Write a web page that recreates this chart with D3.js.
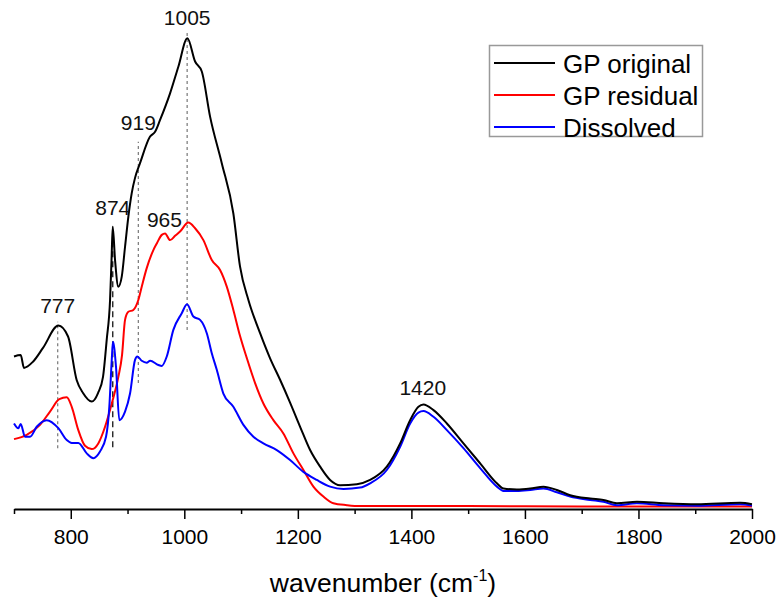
<!DOCTYPE html>
<html lang="en">
<head>
  <meta charset="UTF-8">
  <title>FTIR spectra</title>
  <script src="https://cdn.jsdelivr.net/npm/d3@7"></script>
  <style>
    html, body { margin: 0; padding: 0; background: #fff; }
    svg { display: block; font-family: "Liberation Sans", Arial, sans-serif; }
  </style>
</head>
<body>
  <svg id="chart" width="778" height="601"></svg>
  <script>
    // wavenumber (cm-1) / absorbance (a.u.)
    const gpOriginal = [
      [700, 0.319], [711.8, 0.322], [717.6, 0.295], [733.5, 0.308], [751.1, 0.337],
      [778.1, 0.384], [795.2, 0.361], [810.5, 0.269], [821.6, 0.242], [836.9, 0.224],
      [848.0, 0.242], [856.8, 0.276], [863.3, 0.354], [869.2, 0.438], [871.8, 0.522],
      [873.9, 0.592], [878.0, 0.522], [883.8, 0.466], [889.8, 0.487], [895.6, 0.550],
      [901.4, 0.613], [907.4, 0.663], [913.2, 0.695], [922.0, 0.726], [939.7, 0.782],
      [948.5, 0.792], [957.3, 0.817], [974.9, 0.873], [989.5, 0.929], [1005.4, 0.989],
      [1019.0, 0.940], [1030.8, 0.919], [1045.4, 0.824], [1066.0, 0.726], [1086.4, 0.620],
      [1098.2, 0.508], [1112.9, 0.438], [1133.5, 0.368], [1151.1, 0.315], [1168.7, 0.270],
      [1186.3, 0.222], [1204.0, 0.171], [1221.6, 0.122], [1239.2, 0.087], [1256.8, 0.059],
      [1274.4, 0.048], [1303.9, 0.050], [1327.3, 0.059], [1356.7, 0.087], [1380.2, 0.136],
      [1397.8, 0.185], [1412.4, 0.213], [1421.2, 0.218], [1438.9, 0.206], [1462.5, 0.178],
      [1491.7, 0.136], [1521.1, 0.094], [1550.6, 0.052], [1562.2, 0.041], [1585.8, 0.039],
      [1609.3, 0.041], [1632.7, 0.045], [1656.3, 0.038], [1679.7, 0.027], [1715.0, 0.020],
      [1738.4, 0.017], [1762.0, 0.010], [1797.3, 0.013], [1844.1, 0.010], [1903.0, 0.008],
      [1979.2, 0.011], [2000, 0.008]
    ];

    const gpResidual = [
      [700, 0.145], [722.4, 0.154], [745.8, 0.175], [763.4, 0.203], [779.8, 0.229],
      [792.9, 0.233], [801.7, 0.213], [813.3, 0.164], [825.1, 0.131], [836.9, 0.124],
      [848.5, 0.136], [860.4, 0.171], [872.2, 0.220], [883.8, 0.276], [890.3, 0.322],
      [895.6, 0.396], [901.4, 0.413], [910.2, 0.417], [919.0, 0.438], [925.0, 0.466],
      [933.8, 0.505], [945.5, 0.543], [952.0, 0.558], [960.3, 0.575], [966.1, 0.578],
      [974.9, 0.564], [983.7, 0.573], [992.5, 0.582], [1007.1, 0.601], [1019.0, 0.589],
      [1033.6, 0.564], [1048.4, 0.522], [1063.0, 0.501], [1074.8, 0.466], [1086.4, 0.417],
      [1098.2, 0.362], [1110.0, 0.316], [1124.7, 0.263], [1139.3, 0.220], [1156.9, 0.185],
      [1174.5, 0.157], [1192.2, 0.115], [1209.8, 0.080], [1227.4, 0.045], [1245.0, 0.024],
      [1262.6, 0.010], [1286.3, 0.006], [1309.7, 0.004], [1500, 0.004], [1700, 0.003],
      [2000, 0.003]
    ];

    const dissolved = [
      [700, 0.178], [707.6, 0.168], [711.8, 0.177], [719.4, 0.150], [728.2, 0.150],
      [740.0, 0.171], [757.6, 0.185], [778.1, 0.168], [792.9, 0.143], [801.7, 0.137],
      [813.3, 0.137], [828.1, 0.115], [839.7, 0.105], [851.5, 0.119], [862.1, 0.150],
      [867.9, 0.213], [872.2, 0.312], [874.3, 0.350], [879.7, 0.297], [885.5, 0.185],
      [895.6, 0.203], [904.4, 0.241], [913.2, 0.312], [917.3, 0.319], [925.0, 0.310],
      [933.8, 0.306], [939.7, 0.310], [954.3, 0.301], [960.3, 0.299], [969.1, 0.319],
      [980.7, 0.375], [995.5, 0.410], [1004.8, 0.429], [1016.0, 0.403], [1027.8, 0.396],
      [1039.6, 0.368], [1048.4, 0.326], [1057.2, 0.291], [1068.8, 0.241], [1086.4, 0.213],
      [1104.1, 0.175], [1121.7, 0.150], [1139.3, 0.136], [1162.9, 0.122], [1186.3, 0.101],
      [1209.8, 0.076], [1233.4, 0.059], [1256.8, 0.045], [1280.3, 0.040], [1309.7, 0.043],
      [1327.3, 0.052], [1356.7, 0.080], [1380.2, 0.129], [1397.8, 0.178], [1412.4, 0.201],
      [1421.2, 0.204], [1438.9, 0.192], [1462.5, 0.164], [1491.7, 0.126], [1521.1, 0.084],
      [1550.6, 0.045], [1562.2, 0.036], [1585.8, 0.036], [1609.3, 0.038], [1632.7, 0.041],
      [1656.3, 0.033], [1679.7, 0.024], [1715.0, 0.017], [1738.4, 0.013], [1762.0, 0.006],
      [1797.3, 0.010], [1844.1, 0.006], [1903.0, 0.005], [1979.2, 0.008], [2000, 0.005]
    ];

    const seriesNames = ['GP original', 'GP residual', 'Dissolved'];
    const seriesColors = ['#000000', '#ff0000', '#0000ff'];

    // peak markers: wavenumber, top / bottom of guide line (a.u.), label baseline (a.u.)
    const peakLabels = ['777', '874', '919', '965', '1005', '1420'];
    const guideLines = [
      {w: 777, y0: 0.126, y1: 0.392, dash: '3,3', color: '#777'},
      {w: 874, y0: 0.128, y1: 0.592, dash: '6,4', color: '#000'},
      {w: 919, y0: 0.263, y1: 0.771, dash: '3,3', color: '#777'},
      {w: 1005, y0: 0.375, y1: 1.000, dash: '3,3', color: '#777'}
    ];
    const labelPos = [
      [777, 0.410], [874, 0.617], [919, 0.795], [965, 0.592], [1005, 1.017], [1420, 0.238]
    ];

    const xTicks = d3.range(700, 2001, 100);

    const svg = d3.select('#chart');
    const x = d3.scaleLinear().domain([700, 2000]).range([14, 752]);
    const y = d3.scaleLinear().domain([0, 1]).range([508, 33]);

    // axis
    const axis = d3.axisBottom(x)
      .tickValues(xTicks)
      .tickSize(0)
      .tickFormat(d => d % 200 === 0 && d > 700 ? d : '');
    const gAxis = svg.append('g').attr('transform', 'translate(0,509)').call(axis);
    gAxis.select('.domain').attr('stroke', '#000').attr('stroke-width', 2);
    gAxis.selectAll('.tick line')
      .attr('y2', d => d % 200 === 0 ? 10 : 5)
      .attr('stroke', '#000')
      .attr('stroke-width', 1.5);
    gAxis.selectAll('.tick text')
      .attr('y', 35)
      .attr('dy', 0)
      .attr('font-size', 21)
      .attr('font-family', '"Liberation Sans", Arial, sans-serif')
      .attr('fill', '#000');

    const title = svg.append('text')
      .attr('x', 383)
      .attr('y', 592)
      .attr('text-anchor', 'middle')
      .attr('font-size', 26.5)
      .attr('fill', '#000');
    title.append('tspan').text('wavenumber (cm');
    title.append('tspan').attr('font-size', 16).attr('dy', -11).text('-1');
    title.append('tspan').attr('dy', 11).text(')');

    // guide lines
    svg.selectAll('line.guide')
      .data(guideLines)
      .enter()
      .append('line')
      .attr('class', 'guide')
      .attr('x1', d => x(d.w)).attr('x2', d => x(d.w))
      .attr('y1', d => y(d.y0)).attr('y2', d => y(d.y1))
      .attr('stroke', d => d.color)
      .attr('stroke-width', 1.2)
      .attr('stroke-dasharray', d => d.dash);

    // spectra
    const line = d3.line()
      .x(d => x(d[0]))
      .y(d => y(d[1]))
      .curve(d3.curveMonotoneX);

    const allSeries = [gpOriginal, gpResidual, dissolved];
    svg.selectAll('path.spec')
      .data([allSeries[1], allSeries[2], allSeries[0]])
      .enter()
      .append('path')
      .attr('class', 'spec')
      .attr('d', line)
      .attr('fill', 'none')
      .attr('stroke', (d, i) => seriesColors[[1, 2, 0][i]])
      .attr('stroke-width', 2)
      .attr('stroke-linejoin', 'round');

    // peak labels
    svg.selectAll('text.peak')
      .data(labelPos)
      .enter()
      .append('text')
      .attr('class', 'peak')
      .attr('x', d => x(d[0]))
      .attr('y', d => y(d[1]))
      .attr('text-anchor', 'middle')
      .attr('font-size', 21)
      .attr('fill', '#111')
      .text((d, i) => peakLabels[i]);

    // legend
    const legend = svg.append('g');
    legend.append('rect')
      .attr('x', 489.5).attr('y', 45.5)
      .attr('width', 213).attr('height', 91)
      .attr('fill', '#fff')
      .attr('stroke', '#999')
      .attr('stroke-width', 1.5);
    const rows = legend.selectAll('g.row')
      .data(seriesNames)
      .enter()
      .append('g')
      .attr('class', 'row')
      .attr('transform', (d, i) => `translate(0,${i * 32})`);
    rows.append('line')
      .attr('x1', 494).attr('x2', 555)
      .attr('y1', 63).attr('y2', 63)
      .attr('stroke', (d, i) => seriesColors[i])
      .attr('stroke-width', 2);
    rows.append('text')
      .attr('x', 563).attr('y', 73)
      .attr('font-size', 26)
      .attr('fill', '#000')
      .text(d => d);
  </script>
</body>
</html>
